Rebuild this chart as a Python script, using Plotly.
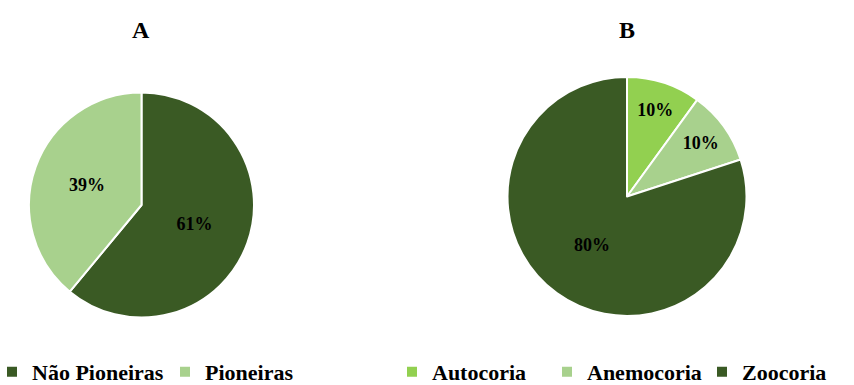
import plotly.graph_objects as go

# Data
labels_a = ["Não Pioneiras", "Pioneiras"]
values_a = [61, 39]
colors_a = ["#3a5a24", "#a8d18d"]

labels_b = ["Autocoria", "Anemocoria", "Zoocoria"]
values_b = [10, 10, 80]
colors_b = ["#92d050", "#a8d18d", "#3a5a24"]

titles = ["A", "B"]

W, H = 854, 385
FONT = "Liberation Serif"

fig = go.Figure()

fig.add_trace(go.Pie(
    labels=labels_a, values=values_a, sort=False, direction="clockwise", rotation=0,
    marker=dict(colors=colors_a, line=dict(color="white", width=2)),
    texttemplate="%{percent:.0%}", textposition="inside",
    insidetextorientation="horizontal",
    textfont=dict(family=FONT, size=18, color="black", weight="bold"),
    domain=dict(x=[29 / W, 254 / W], y=[1 - 318 / H, 1 - 92 / H]),
    legend="legend", hoverinfo="label+percent",
))

fig.add_trace(go.Pie(
    labels=labels_b, values=values_b, sort=False, direction="clockwise", rotation=0,
    marker=dict(colors=colors_b, line=dict(color="white", width=2)),
    texttemplate="%{percent:.0%}", textposition="inside",
    insidetextorientation="horizontal",
    textfont=dict(family=FONT, size=18, color="black", weight="bold"),
    domain=dict(x=[505 / W, 749 / W], y=[1 - 316 / H, 1 - 77 / H]),
    legend="legend2", hoverinfo="label+percent",
))

legend_font = dict(family=FONT, size=22, color="black", weight="bold")
fig.update_layout(
    width=W, height=H,
    margin=dict(l=0, r=0, t=0, b=0, autoexpand=False),
    paper_bgcolor="white", plot_bgcolor="white",
    font=dict(family=FONT),
    legend=dict(orientation="h", x=-8 / W, y=(385 - 372) / H, xanchor="left", yanchor="middle",
                font=legend_font, itemwidth=30, traceorder="normal",
                entrywidth=128, entrywidthmode="pixels"),
    legend2=dict(orientation="h", x=392 / W, y=(385 - 372) / H, xanchor="left", yanchor="middle",
                 font=legend_font, itemwidth=30, traceorder="normal",
                 entrywidth=110, entrywidthmode="pixels"),
    annotations=[
        dict(text=titles[0], x=141 / W, y=1 - 30 / H, xref="paper", yref="paper",
             xanchor="center", yanchor="middle", showarrow=False,
             font=dict(family=FONT, size=24, color="black", weight="bold")),
        dict(text=titles[1], x=627 / W, y=1 - 30 / H, xref="paper", yref="paper",
             xanchor="center", yanchor="middle", showarrow=False,
             font=dict(family=FONT, size=24, color="black", weight="bold")),
    ],
)

fig.write_html("out.html")
